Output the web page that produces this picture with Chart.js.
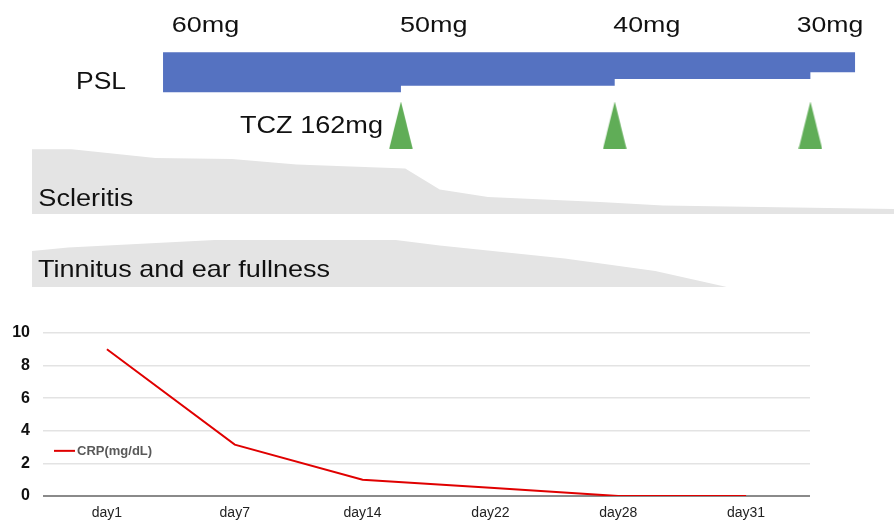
<!DOCTYPE html>
<html><head><meta charset="utf-8">
<script src="https://cdn.jsdelivr.net/npm/chart.js@4/dist/chart.umd.min.js"></script>
<style>
html,body{margin:0;padding:0;background:#fff;}
#wrap{position:relative;width:894px;height:524px;overflow:hidden;background:#fff}
#top{position:absolute;left:0;top:0}
#crp{position:absolute;left:0;top:290px}
</style></head><body>
<div id="wrap"><canvas id="top" width="894" height="290"></canvas><canvas id="crp" width="894" height="234"></canvas></div>
<script>
// ---------- CRP panel data ----------
const days = ['day1', 'day7', 'day14', 'day22', 'day28', 'day31'];
const crp = [9.0, 3.15, 1.0, 0.5, 0.0, 0.0];
const crpTicks = [0, 2, 4, 6, 8, 10];

// ---------- Timeline panel data (x = timeline position, 0..100) ----------
const pslLabels = ['60mg', '50mg', '40mg', '30mg'];
const pslDose = [60, 50, 40, 30, 30];
const pslX = [15.2, 42.8, 67.6, 90.3, 95.5];
const tczX = [42.8, 67.6, 90.3];
const scleritisX = [0, 4.6, 14.3, 23.2, 30.7, 43.3, 47.3, 52.9, 65.9, 73.2, 100];
const scleritisLevel = [64.7, 64.7, 56, 55, 49.5, 45.5, 24.5, 17, 12, 8.5, 5];
const tinnitusX = [0, 4.2, 21.2, 42.2, 47.3, 61.8, 72.3, 80.6];
const tinnitusLevel = [36, 39.5, 47, 47, 41.5, 28.5, 16, 0];

// ---------- layout / style ----------
const FONT = '"Liberation Sans", Arial, Helvetica, sans-serif';
const ROW = {pslTop: 52.3, doseScale: 0.667, tcz: 125, scleritisBase: 214, tinnitusBase: 287};
const topTexts = [
  {text: pslLabels[0], x: 171.7, y: 31.7, size: 22, w: 67.5},
  {text: pslLabels[1], x: 400.0, y: 31.7, size: 22, w: 67.5},
  {text: pslLabels[2], x: 613.3, y: 31.7, size: 22, w: 67.0},
  {text: pslLabels[3], x: 796.7, y: 31.7, size: 22, w: 66.6},
  {text: 'PSL', x: 76, y: 89.3, size: 24, w: 50},
  {text: 'TCZ 162mg', x: 240, y: 133.3, size: 24, w: 143},
  {text: 'Scleritis', x: 38.3, y: 206, size: 23, w: 95},
  {text: 'Tinnitus and ear fullness', x: 38, y: 276.7, size: 24, w: 292}
];

function drawStretched(ctx, t) {
  ctx.save();
  ctx.font = t.size + 'px ' + FONT;
  const w = ctx.measureText(t.text).width;
  ctx.translate(t.x, t.y);
  ctx.scale(t.w / w, 1);
  ctx.fillStyle = '#111';
  ctx.textBaseline = 'alphabetic';
  ctx.textAlign = 'left';
  ctx.fillText(t.text, 0, 0);
  ctx.restore();
}

// custom tall triangle marker
const tri = document.createElement('canvas');
tri.width = 24; tri.height = 47;
(function () {
  const c = tri.getContext('2d');
  c.fillStyle = '#60ad57';
  c.beginPath();
  c.moveTo(0.3, 47); c.lineTo(12, 0); c.lineTo(23.7, 47); c.closePath();
  c.fill();
})();

const pslData = pslX.map((x, i) => ({x, y: ROW.pslTop + pslDose[i] * ROW.doseScale}));
const tczData = tczX.map(x => ({x, y: ROW.tcz}));
const sclData = scleritisX.map((x, i) => ({x, y: ROW.scleritisBase - scleritisLevel[i]}));
const tinData = tinnitusX.map((x, i) => ({x, y: ROW.tinnitusBase - tinnitusLevel[i]}));

const textPlugin = {
  id: 'topTexts',
  afterDraw(chart) {
    topTexts.forEach(t => drawStretched(chart.ctx, t));
  }
};

new Chart(document.getElementById('top'), {
  type: 'line',
  data: {
    datasets: [
      {data: sclData, fill: {value: ROW.scleritisBase}, backgroundColor: '#e4e4e4', borderWidth: 0, pointRadius: 0, tension: 0, order: 4},
      {data: tinData, fill: {value: ROW.tinnitusBase}, backgroundColor: '#e4e4e4', borderWidth: 0, pointRadius: 0, tension: 0, order: 3},
      {data: pslData, stepped: true, fill: {value: ROW.pslTop}, backgroundColor: '#5572c1', borderWidth: 0, pointRadius: 0, order: 2},
      {data: tczData, showLine: false, pointStyle: tri, pointRadius: 12, borderWidth: 0, order: 1, clip: false}
    ]
  },
  options: {
    responsive: false, animation: false, devicePixelRatio: 1,
    layout: {autoPadding: false, padding: {left: 32, right: 0, top: 0, bottom: 0}},
    plugins: {legend: {display: false}, tooltip: {enabled: false}},
    events: [],
    scales: {
      x: {type: 'linear', min: 0, max: 100, display: false},
      y: {type: 'linear', min: 0, max: 290, reverse: true, display: false}
    }
  },
  plugins: [textPlugin]
});

// ---------- CRP chart ----------
const LEG = {value: 2.77, x0: 11, x1: 32, tx: 34};
const crpLegend = {
  id: 'crpLegend',
  afterDraw(chart) {
    const {ctx, chartArea, scales} = chart;
    const y = scales.y.getPixelForValue(LEG.value);
    ctx.save();
    ctx.strokeStyle = '#e00000';
    ctx.lineWidth = 2;
    ctx.beginPath();
    ctx.moveTo(chartArea.left + LEG.x0, y);
    ctx.lineTo(chartArea.left + LEG.x1, y);
    ctx.stroke();
    ctx.font = 'bold 13px ' + FONT;
    ctx.fillStyle = '#595959';
    ctx.textBaseline = 'middle';
    ctx.fillText(chart.data.datasets[0].label, chartArea.left + LEG.tx, y + 0.5);
    ctx.restore();
  }
};

new Chart(document.getElementById('crp'), {
  type: 'line',
  data: {
    labels: days,
    datasets: [{label: 'CRP(mg/dL)', data: crp, borderColor: '#e00000', borderWidth: 2, pointRadius: 0, tension: 0, fill: false}]
  },
  options: {
    responsive: false, animation: false, devicePixelRatio: 1,
    events: [],
    layout: {autoPadding: false, padding: {top: 43, right: 84, left: 0, bottom: 0}},
    plugins: {legend: {display: false}, tooltip: {enabled: false}},
    scales: {
      x: {
        offset: true,
        grid: {display: false, drawTicks: false},
        border: {display: false},
        ticks: {color: '#222', font: {family: FONT, size: 14}, padding: 9, maxRotation: 0},
        afterFit(s) { s.height = 28; }
      },
      y: {
        min: 0, max: 10,
        afterBuildTicks(s) { s.ticks = crpTicks.map(v => ({value: v})); },
        ticks: {color: '#111', font: {family: FONT, size: 16, weight: 'bold'}, padding: 13},
        grid: {
          drawTicks: false,
          color: c => c.tick && c.tick.value === 0 ? '#8a8a8a' : '#e3e3e3',
          lineWidth: c => c.tick && c.tick.value === 0 ? 2 : 1.5
        },
        border: {display: false},
        afterFit(s) { s.width = 43; }
      }
    }
  },
  plugins: [crpLegend]
});
</script>
</body></html>
